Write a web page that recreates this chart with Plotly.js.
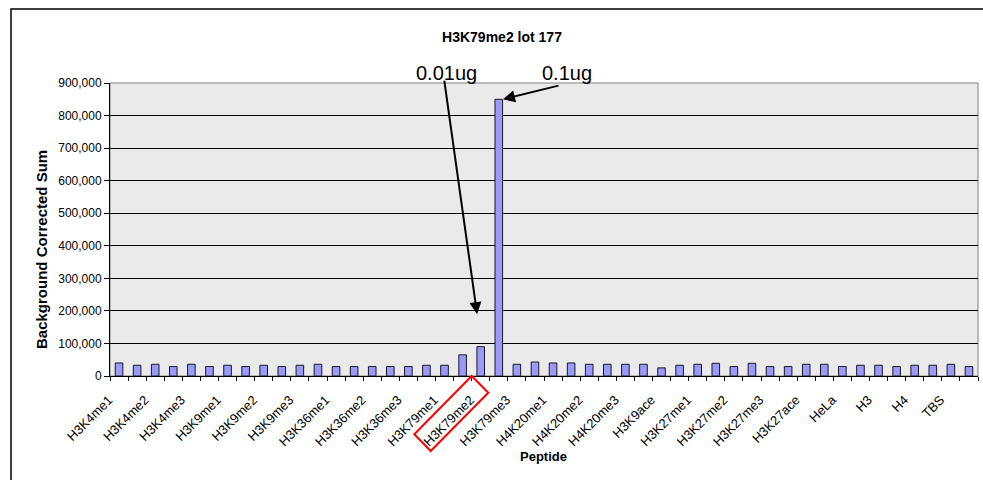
<!DOCTYPE html>
<html>
<head>
<meta charset="utf-8">
<script src="https://cdn.plot.ly/plotly-3.0.1.min.js"></script>
<style>html,body{margin:0;padding:0;background:#fff;}#chart{width:983px;height:480px;}</style>
</head>
<body>
<div id="chart"></div>
<script>
// Peptide names (each peptide has two bars: 0.01ug then 0.1ug of antibody)
const peptides = ["H3K4me1","H3K4me2","H3K4me3","H3K9me1","H3K9me2","H3K9me3",
  "H3K36me1","H3K36me2","H3K36me3","H3K79me1","H3K79me2","H3K79me3",
  "H4K20me1","H4K20me2","H4K20me3","H3K9ace","H3K27me1","H3K27me2",
  "H3K27me3","H3K27ace","HeLa","H3","H4","TBS"];
// First bar of each pair
const sumA = [40000,36000,36000,33000,33000,33000,29000,29000,29000,33000,90000,36000,
  40000,36000,36000,25000,36000,29000,29000,36000,29000,33000,33000,36000];
// Second bar of each pair
const sumB = [33000,29000,29000,29000,29000,36000,29000,29000,33000,65000,850000,43000,
  40000,36000,36000,33000,39000,39000,29000,36000,33000,29000,33000,29000];
const yTicks = [0,100000,200000,300000,400000,500000,600000,700000,800000,900000];

// Build 48 sequential categories
const xs = [], ys = [];
peptides.forEach((p, i) => {
  xs.push(2*i + 1); ys.push(sumA[i]);
  xs.push(2*i + 2); ys.push(sumB[i]);
});
const labelPos = peptides.map((p, i) => 2*i + 1);
const pad = '\u00A0\u00A0\u00A0\u00A0';
const labelText = peptides.map(p => p + pad);
const bounds = [];
for (let k = 0; k <= xs.length; k++) bounds.push(k + 0.5);

// pixel -> paper helpers (plot area: x 110..978, y 83..376)
const L = 110, R = 978, T = 83, B = 376;
const px = v => (v - L) / (R - L);
const py = v => (B - v) / (B - T);

const trace = {
  type: 'bar', x: xs, y: ys, width: 0.42,
  marker: {color: '#9999FF', line: {color: '#1a1a1a', width: 1}},
  hoverinfo: 'x+y'
};

const font = 'Arial, "Liberation Sans", sans-serif';

const layout = {
  width: 983, height: 480,
  margin: {l: L, r: 983 - R, t: T, b: 480 - B, pad: 0},
  paper_bgcolor: '#ffffff', plot_bgcolor: '#EAEAEA',
  showlegend: false,
  font: {family: font, size: 12, color: '#000'},
  title: {text: '<b>H3K79me2 lot 177</b>', font: {family: font, size: 14, color: '#000'},
    xref: 'container', yref: 'container', x: 502/983, y: 1 - 37/480, xanchor: 'center', yanchor: 'middle'},
  xaxis: {
    range: [0.5, xs.length + 0.5], tickmode: 'array', tickvals: labelPos, ticktext: labelText,
    tickangle: -45, ticks: '', showgrid: false, zeroline: false,
    showline: true, linecolor: '#000', linewidth: 1,
    ticklabelstandoff: 0,
    tickfont: {family: font, size: 13, color: '#000'},
    minor: {tickmode: 'array', tickvals: bounds, ticks: 'outside', ticklen: 4, tickwidth: 1, tickcolor: '#000', showgrid: false},
    automargin: false, fixedrange: true
  },
  yaxis: {
    range: [0, 900000], tickmode: 'array', tickvals: yTicks,
    ticktext: yTicks.map(v => v === 0 ? '0' : v.toLocaleString('en-US')),
    ticks: 'outside', ticklen: 5, tickwidth: 1, tickcolor: '#000',
    showgrid: true, gridcolor: '#000', gridwidth: 1, zeroline: false,
    showline: true, linecolor: '#000', linewidth: 1,
    tickfont: {family: font, size: 12, color: '#000'},
    automargin: false, fixedrange: true
  },
  shapes: [
    // plot-area gray frame
    {type: 'rect', xref: 'paper', yref: 'paper', x0: 0, x1: 1, y0: 0, y1: 1,
      line: {color: '#808080', width: 1}, layer: 'below'},
    // outer chart border
    {type: 'rect', xref: 'paper', yref: 'paper', x0: px(11), x1: px(1030), y0: py(520), y1: py(9),
      line: {color: '#000', width: 1.5}},
    // red box around H3K79me2 label
    {type: 'path', xref: 'paper', yref: 'paper',
      path: `M ${px(471.7)} ${py(376)} L ${px(488.3)} ${py(392.7)} L ${px(430.7)} ${py(451)} L ${px(414.3)} ${py(434.3)} Z`,
      line: {color: '#FF0000', width: 2}}
  ],
  annotations: [
    // axis titles
    {xref: 'paper', yref: 'paper', x: px(543), y: py(456), text: '<b>Peptide</b>', showarrow: false,
      font: {family: font, size: 13, color: '#000'}, xanchor: 'center', yanchor: 'middle'},
    {xref: 'paper', yref: 'paper', x: px(41), y: py(250), text: '<b>Background Corrected Sum</b>', showarrow: false,
      textangle: -90, font: {family: font, size: 15, color: '#000'}, xanchor: 'center', yanchor: 'middle'},
    // dose labels with arrows
    {xref: 'paper', yref: 'paper', x: px(446), y: py(73), text: '0.01ug', showarrow: false,
      font: {family: font, size: 20, color: '#000'}, xanchor: 'center', yanchor: 'middle'},
    {xref: 'paper', yref: 'paper', x: px(567), y: py(73), text: '0.1ug', showarrow: false,
      font: {family: font, size: 20, color: '#000'}, xanchor: 'center', yanchor: 'middle'},
    {xref: 'x', yref: 'y', x: 20.8, y: 190000, ax: -33, ay: -235, text: '', showarrow: true,
      arrowhead: 2, arrowsize: 1.2, arrowwidth: 2, arrowcolor: '#000'},
    {xref: 'x', yref: 'y', x: 22.23, y: 850000, ax: 57, ay: -14, text: '', showarrow: true,
      arrowhead: 2, arrowsize: 1.2, arrowwidth: 2, arrowcolor: '#000'}
  ]
};

Plotly.newPlot('chart', [trace], layout, {displayModeBar: false, staticPlot: true});
</script>
</body>
</html>
